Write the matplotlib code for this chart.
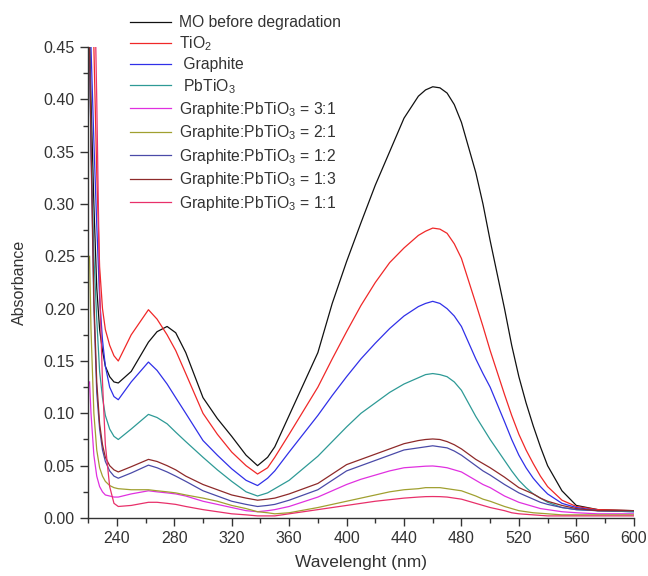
import matplotlib
matplotlib.use('Agg')
import matplotlib.pyplot as plt
from matplotlib.ticker import MultipleLocator

plt.rcParams['font.family'] = ['Liberation Sans', 'DejaVu Sans']
plt.rcParams['mathtext.fontset'] = 'custom'
plt.rcParams['mathtext.rm'] = 'Liberation Sans'
plt.rcParams['mathtext.it'] = 'Liberation Sans'

# wavelength grid (nm)
wl = [221, 222, 224, 226, 228, 230, 232, 235, 238, 241,
      250, 262, 268, 275, 281, 288, 300, 310, 320, 330,
      338, 345, 350, 360, 380, 390, 400, 410, 420, 430,
      440, 450, 455, 460, 465, 470, 475, 480, 490, 495,
      500, 510, 515, 520, 525, 530, 535, 540, 550, 560,
      575, 600]

mo = [0.46, 0.40, 0.30, 0.22, 0.18, 0.16, 0.145, 0.135, 0.13, 0.129,
      0.14, 0.168, 0.178, 0.183, 0.177, 0.158, 0.115, 0.095, 0.078, 0.06,
      0.050, 0.058, 0.068, 0.098, 0.158, 0.205, 0.245, 0.282, 0.318, 0.350,
      0.382, 0.403, 0.409, 0.412, 0.411, 0.406, 0.395, 0.378, 0.33, 0.30,
      0.265, 0.20, 0.165, 0.135, 0.11, 0.088, 0.068, 0.05, 0.026, 0.012,
      0.008, 0.007]
tio2 = [0.6, 0.55, 0.45, 0.33, 0.24, 0.2, 0.18, 0.165, 0.155, 0.150,
        0.175, 0.199, 0.19, 0.175, 0.16, 0.138, 0.100, 0.08, 0.063, 0.05,
        0.042, 0.048, 0.058, 0.080, 0.125, 0.152, 0.178, 0.203, 0.225, 0.244,
        0.258, 0.27, 0.274, 0.277, 0.276, 0.272, 0.262, 0.248, 0.205, 0.183,
        0.16, 0.118, 0.098, 0.08, 0.065, 0.052, 0.04, 0.03, 0.017, 0.011,
        0.008, 0.007]
graphite = [0.55, 0.45, 0.36, 0.28, 0.21, 0.17, 0.145, 0.125, 0.116, 0.113,
            0.13, 0.149, 0.141, 0.128, 0.115, 0.1, 0.074, 0.06, 0.047, 0.036,
            0.031, 0.038, 0.045, 0.063, 0.098, 0.117, 0.135, 0.152, 0.167, 0.181,
            0.193, 0.202, 0.205, 0.207, 0.205, 0.2, 0.193, 0.183, 0.152, 0.138,
            0.125, 0.092, 0.075, 0.06, 0.048, 0.038, 0.03, 0.023, 0.014, 0.01,
            0.007, 0.006]
pbtio3 = [0.45, 0.36, 0.25, 0.19, 0.14, 0.115, 0.098, 0.085, 0.078, 0.075,
          0.085, 0.099, 0.096, 0.09, 0.082, 0.073, 0.058, 0.046, 0.035, 0.025,
          0.021, 0.024, 0.028, 0.036, 0.059, 0.073, 0.087, 0.1, 0.11, 0.12,
          0.128, 0.134, 0.137, 0.138, 0.137, 0.135, 0.13, 0.122, 0.097, 0.086,
          0.075, 0.055, 0.045, 0.036, 0.029, 0.023, 0.019, 0.015, 0.01, 0.008,
          0.007, 0.006]
r31 = [0.13, 0.1, 0.06, 0.04, 0.03, 0.025, 0.022, 0.021, 0.02, 0.02,
       0.023, 0.026, 0.025, 0.024, 0.023, 0.021, 0.016, 0.013, 0.01, 0.007,
       0.006, 0.007, 0.008, 0.011, 0.02, 0.026, 0.032, 0.037, 0.041, 0.045,
       0.048, 0.049, 0.0495, 0.0497, 0.049, 0.048, 0.046, 0.044, 0.036, 0.032,
       0.029, 0.021, 0.018, 0.015, 0.013, 0.011, 0.009, 0.008, 0.006, 0.005,
       0.004, 0.004]
r21 = [0.25, 0.18, 0.1, 0.065, 0.048, 0.04, 0.035, 0.031, 0.029, 0.028,
       0.027, 0.027, 0.026, 0.025, 0.024, 0.022, 0.019, 0.016, 0.012, 0.009,
       0.006, 0.005, 0.004, 0.005, 0.01, 0.013, 0.016, 0.019, 0.022, 0.025,
       0.027, 0.028, 0.029, 0.029, 0.029, 0.028, 0.027, 0.026, 0.021, 0.018,
       0.016, 0.011, 0.009, 0.007, 0.006, 0.005, 0.0045, 0.004, 0.003, 0.003,
       0.003, 0.003]
r12 = [0.45, 0.35, 0.2, 0.12, 0.085, 0.065, 0.054, 0.045, 0.04, 0.038,
       0.043, 0.0505, 0.048, 0.044, 0.04, 0.035, 0.026, 0.021, 0.016, 0.013,
       0.011, 0.012, 0.013, 0.017, 0.027, 0.036, 0.045, 0.05, 0.055, 0.06,
       0.065, 0.067, 0.068, 0.069, 0.068, 0.067, 0.064, 0.06, 0.05, 0.045,
       0.041, 0.032, 0.028, 0.024, 0.021, 0.018, 0.015, 0.013, 0.01, 0.008,
       0.007, 0.007]
r13 = [0.45, 0.36, 0.21, 0.13, 0.09, 0.07, 0.058, 0.05, 0.046, 0.044,
       0.049, 0.056, 0.054, 0.05, 0.046, 0.04, 0.032, 0.027, 0.022, 0.019,
       0.017, 0.018, 0.019, 0.023, 0.033, 0.042, 0.051, 0.056, 0.061, 0.066,
       0.071, 0.074, 0.075, 0.0755, 0.075, 0.073, 0.07, 0.066, 0.056, 0.052,
       0.048, 0.039, 0.034, 0.029, 0.026, 0.023, 0.019, 0.016, 0.012, 0.009,
       0.007, 0.007]
r11 = [0.6, 0.6, 0.55, 0.4, 0.22, 0.13, 0.07, 0.03, 0.014, 0.011,
       0.012, 0.015, 0.015, 0.014, 0.013, 0.011, 0.008, 0.006, 0.004, 0.003,
       0.002, 0.002, 0.002, 0.004, 0.008, 0.01, 0.012, 0.014, 0.016, 0.0175,
       0.019, 0.020, 0.0204, 0.0205, 0.0204, 0.02, 0.019, 0.018, 0.014, 0.012,
       0.01, 0.007, 0.005, 0.004, 0.0035, 0.003, 0.0025, 0.002, 0.002, 0.002,
       0.002, 0.002]

labels = ['MO before degradation', 'TiO$_2$', ' Graphite', ' PbTiO$_3$',
          'Graphite:PbTiO$_3$ = 3:1', 'Graphite:PbTiO$_3$ = 2:1',
          'Graphite:PbTiO$_3$ = 1:2', 'Graphite:PbTiO$_3$ = 1:3',
          'Graphite:PbTiO$_3$ = 1:1']
series = [mo, tio2, graphite, pbtio3, r31, r21, r12, r13, r11]
colors = ['#111111', '#f02828', '#3030e8', '#2e9a96', '#e030e0',
          '#a0a030', '#4a4aa8', '#8e2a2a', '#e8306a']

fig = plt.figure(figsize=(6.48, 5.76), dpi=100)
ax = fig.add_axes([0.136, 0.1007, 0.842, 0.8177])

for y, c, lab in zip(series, colors, labels):
    ax.plot(wl, y, color=c, lw=0.9, label=lab)

ax.set_xlim(220, 600)
ax.set_ylim(0, 0.45)
ax.xaxis.set_major_locator(MultipleLocator(40))
ax.xaxis.set_minor_locator(MultipleLocator(20))
ax.yaxis.set_major_locator(MultipleLocator(0.05))
ax.yaxis.set_minor_locator(MultipleLocator(0.025))
ax.set_xticks(range(240, 601, 40))
ax.yaxis.set_major_formatter(plt.FormatStrFormatter('%.2f'))
ax.spines['top'].set_visible(False)
ax.spines['right'].set_visible(False)
for s in ['left', 'bottom']:
    ax.spines[s].set_color('#333333')
    ax.spines[s].set_linewidth(1.0)
ax.tick_params(which='major', length=6, width=1, color='#333333',
               labelsize=11.5, labelcolor='#333333', direction='out')
ax.tick_params(which='minor', length=3.5, width=1, color='#333333', direction='out')
ax.set_xlabel('Wavelenght (nm)', fontsize=12.5, color='#333333', labelpad=6)
ax.set_ylabel('Absorbance', fontsize=11.5, color='#333333', labelpad=12)

leg = ax.legend(loc='upper left', bbox_to_anchor=(130 / 648, 1 - 15 / 576),
                bbox_transform=fig.transFigure, frameon=False, fontsize=11.3,
                handlelength=2.6, handletextpad=0.5, labelspacing=0.28,
                borderaxespad=0, borderpad=0)
for t in leg.get_texts():
    t.set_color('#333333')

fig.savefig('out.png', dpi=100)
